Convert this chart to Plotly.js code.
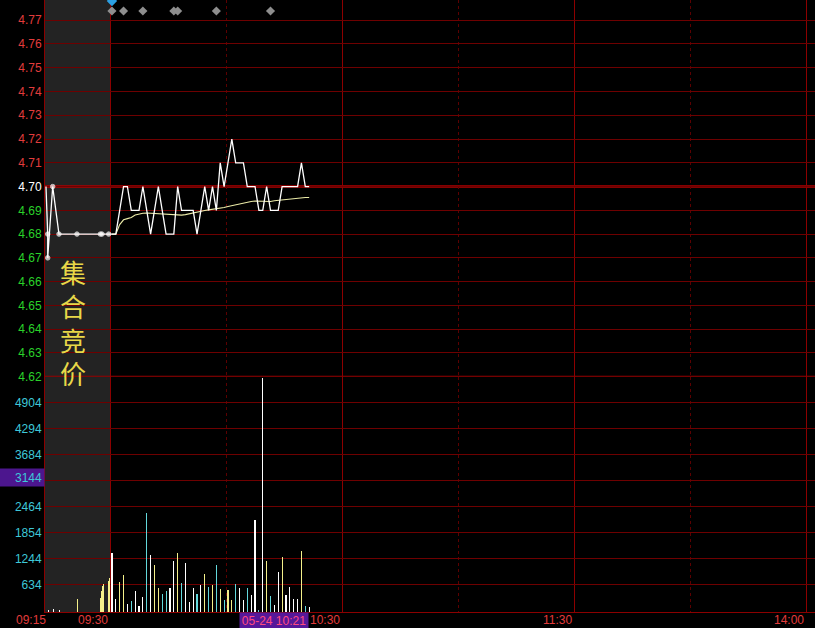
<!DOCTYPE html>
<html>
<head>
<meta charset="utf-8">
<script src="https://cdn.plot.ly/plotly-3.0.1.min.js"></script>
<style>
  html, body { margin: 0; padding: 0; background: #000; overflow: hidden; }
  #chart { width: 815px; height: 628px; }
</style>
</head>
<body>
<div id="chart"></div>
<script>
// ---------- data ----------
const prevClose = 4.70;

// call auction 09:15-09:25 (time stamps, matched price)
const auctionPriceTimes = ['09:15:09', '09:15:25', '09:15:25', '09:16:11', '09:17:09', '09:19:55', '09:23:31', '09:23:46', '09:24:48'];
const auctionPrices     = [4.70, 4.68, 4.67, 4.70, 4.68, 4.68, 4.68, 4.68, 4.68];

// call auction volume
const auctionVolTimes = ['09:15:30', '09:16:17', '09:17:12', '09:19:58', '09:23:31', '09:23:40', '09:23:49', '09:23:58', '09:24:44', '09:24:53'];
const auctionVols     = [54, 70, 54, 305, 335, 483, 600, 657, 718, 805];
const auctionVolKind  = ['w', 'w', 'w', 'y', 'y', 'y', 'y', 'y', 'y', 'y'];

// continuous trading, one entry per minute from 09:30 to 10:21
const tradePrice = [
  4.68, 4.68, 4.69, 4.70, 4.70, 4.69, 4.69, 4.69, 4.70, 4.69,
  4.68, 4.69, 4.70, 4.69, 4.68, 4.68, 4.68, 4.70, 4.69, 4.69,
  4.69, 4.69, 4.68, 4.69, 4.70, 4.69, 4.70, 4.69, 4.71, 4.70,
  4.71, 4.72, 4.71, 4.71, 4.71, 4.70, 4.70, 4.70, 4.69, 4.69,
  4.70, 4.69, 4.69, 4.69, 4.70, 4.70, 4.70, 4.70, 4.70, 4.71,
  4.70, 4.70
];
const avgPrice = [
  4.6800, 4.6800, 4.6840, 4.6860, 4.6865, 4.6870, 4.6880, 4.6885, 4.6888, 4.6889,
  4.6888, 4.6887, 4.6886, 4.6885, 4.6883, 4.6881, 4.6880, 4.6879, 4.6880, 4.6882,
  4.6886, 4.6889, 4.6893, 4.6896, 4.6899, 4.6902, 4.6904, 4.6906, 4.6909, 4.6912,
  4.6916, 4.6920, 4.6924, 4.6928, 4.6931, 4.6934, 4.6937, 4.6939, 4.6938, 4.6936,
  4.6935, 4.6937, 4.6940, 4.6942, 4.6944, 4.6946, 4.6948, 4.6950, 4.6952, 4.6953,
  4.6954, 4.6954
];
const tradeVol = [
  1391, 312, 695, 875, 195, 265, 500, 148, 359, 2323,
  1344, 1110, 570, 429, 500, 570, 1204, 1391, 687, 1157,
  242, 570, 429, 641, 899, 594, 641, 1110, 547, 289,
  523, 289, 664, 570, 289, 570, 406, 2166, 54, 5490,
  1204, 382, 171, 946, 1298, 406, 594, 312, 312, 1438,
  148, 124
];
const tradeVolKind = [
  'w', 'w', 'y', 'y', 'w', 'c', 'w', 'w', 'w', 'c',
  'w', 'y', 'y', 'c', 'c', 'w', 'w', 'y', 'c', 'w',
  'w', 'w', 'c', 'w', 'y', 'c', 'y', 'c', 'y', 'c',
  'y', 'y', 'c', 'w', 'w', 'c', 'w', 'w', 'c', 'w',
  'y', 'c', 'w', 'w', 'y', 'w', 'w', 'w', 'w', 'y',
  'c', 'w'
];

// minute indexes (from 09:30) carrying event flags
const eventMinutes = [3, 8, 16, 17, 27, 41];
const alertMinutes = [0];

// axis ticks
const priceTicks = [4.62, 4.63, 4.64, 4.65, 4.66, 4.67, 4.68, 4.69, 4.70, 4.71, 4.72, 4.73, 4.74, 4.75, 4.76, 4.77];
const volTicks = [634, 1244, 1854, 2464, 3074, 3684, 4294, 4904];
const volTickText = ['634', '1244', '1854', '2464', '', '3684', '4294', '4904'];
const timeTicks = ['09:15', '09:30', '10:30', '11:30', '14:00'];
const halfHourTicks = ['10:00', '11:00', '13:30'];
const cursorVolume = 3144;
const cursorLabel = '05-24 10:21';
const cursorMinute = 51;

// ---------- time scale ----------
// x unit = trading minute after 09:30; lunch break removed; auction squeezed to the left block
const AUCTION_LEFT = -16.81;
function tradingMinutes(hhmm) {
  const [h, m] = hhmm.split(':').map(Number);
  const t = h * 60 + m;
  if (t <= 11 * 60 + 30) return t - (9 * 60 + 30);
  return 120 + t - 13 * 60;
}
function timeToX(hhmm) {
  if (hhmm === '09:15') return AUCTION_LEFT;
  return tradingMinutes(hhmm);
}
function auctionX(hms) {
  const [h, m, s] = hms.split(':').map(Number);
  const secs = (h * 3600 + m * 60 + s) - (9 * 3600 + 15 * 60);
  return AUCTION_LEFT + secs / 600 * (-AUCTION_LEFT);
}
const minuteX = i => i + 0.5;

const kindColor = { w: '#ffffff', y: '#f4f08a', c: '#63d8dc' };
const RED = '#e23c3c', GREEN = '#2ad22a', CYAN = '#3ec8d8';
const GRID = '#6e0000', AXIS = '#8c0000';
const FONT = 'Liberation Sans, Arial, sans-serif';

// ---------- traces ----------
const tradeX = tradePrice.map((_, i) => minuteX(i));
const aPX = auctionPriceTimes.map(auctionX);

const priceTrace = {
  x: aPX.concat(tradeX),
  y: auctionPrices.concat(tradePrice),
  xaxis: 'x', yaxis: 'y',
  type: 'scatter', mode: 'lines+markers',
  line: { color: '#ffffff', width: 1.3 },
  marker: {
    color: '#ffffff',
    size: aPX.map((_, i) => (i === 0 ? 0 : 4.5)).concat(tradeX.map(() => 0))
  },
  hoverinfo: 'skip'
};

const avgTrace = {
  x: tradeX, y: avgPrice,
  xaxis: 'x', yaxis: 'y',
  type: 'scatter', mode: 'lines',
  line: { color: '#ececa8', width: 1.1 },
  hoverinfo: 'skip'
};

const volTrace = {
  x: auctionVolTimes.map(auctionX).concat(tradeVol.map((_, i) => minuteX(i))),
  y: auctionVols.concat(tradeVol),
  xaxis: 'x', yaxis: 'y2',
  type: 'bar',
  width: 0.3,
  marker: { color: auctionVolKind.concat(tradeVolKind).map(k => kindColor[k]), line: { width: 0 } },
  hoverinfo: 'skip'
};

const PRICE_TOP = 4.7785;
const yFlag = 4.7739, yAlert = 4.7781;
const eventTrace = {
  x: eventMinutes.concat(alertMinutes).map(minuteX),
  y: eventMinutes.map(() => yFlag).concat(alertMinutes.map(() => yFlag)),
  xaxis: 'x', yaxis: 'y',
  type: 'scatter', mode: 'markers',
  marker: { symbol: 'diamond', size: 7, color: '#8e8e8e' },
  hoverinfo: 'skip'
};
const alertTrace = {
  x: alertMinutes.map(minuteX),
  y: alertMinutes.map(() => yAlert),
  xaxis: 'x', yaxis: 'y',
  type: 'scatter', mode: 'markers',
  marker: { symbol: 'diamond', size: 8, color: '#2c9fe2' },
  hoverinfo: 'skip'
};

// ---------- layout ----------
const VOL_TOP = 5514;
const SPLIT = 0.3845;

const priceTickText = priceTicks.map(p => {
  const c = p > prevClose + 1e-9 ? RED : (p < prevClose - 1e-9 ? GREEN : '#ffffff');
  return '<span style="color:' + c + '">' + p.toFixed(2) + '</span>';
});

// time labels sit just left of their grid line
const timeLabels = timeTicks.map(t => ({
  xref: 'x', yref: 'paper', x: timeToX(t), y: 0,
  xanchor: 'right', yanchor: 'top', xshift: t === '09:15' ? 2 : -1, yshift: 0,
  text: t, showarrow: false, borderpad: 0,
  font: { family: FONT, size: 12, color: RED }
}));

const layout = {
  width: 815, height: 628,
  margin: { l: 45, r: 0, t: 0, b: 16 },
  paper_bgcolor: '#000000',
  plot_bgcolor: '#000000',
  showlegend: false,
  bargap: 0,
  font: { family: FONT, size: 12, color: RED },
  xaxis: {
    range: [AUCTION_LEFT, 182.3],
    tickvals: timeTicks.map(timeToX),
    ticktext: timeTicks,
    showticklabels: false,
    ticks: '',
    showgrid: true, gridcolor: AXIS, gridwidth: 1,
    minor: { tickvals: halfHourTicks.map(timeToX), showgrid: true, gridcolor: '#5c0000', griddash: 'dot', gridwidth: 1, ticks: '' },
    showline: true, linecolor: AXIS, linewidth: 1,
    zeroline: false, anchor: 'y2', fixedrange: true
  },
  yaxis: {
    domain: [SPLIT, 1],
    range: [4.62, PRICE_TOP],
    tickvals: priceTicks,
    ticktext: priceTickText,
    ticks: '',
    tickfont: { family: FONT, size: 12, color: RED },
    showgrid: true, gridcolor: GRID, gridwidth: 1,
    showline: true, linecolor: AXIS,
    zeroline: false, anchor: 'x', fixedrange: true
  },
  yaxis2: {
    domain: [0, SPLIT],
    range: [0, VOL_TOP],
    tickvals: volTicks,
    ticktext: volTickText,
    ticks: '',
    tickfont: { family: FONT, size: 12, color: CYAN },
    showgrid: true, gridcolor: GRID, gridwidth: 1,
    showline: true, linecolor: AXIS,
    zeroline: false, anchor: 'x', fixedrange: true
  },
  shapes: [
    // call auction block
    { type: 'rect', xref: 'x', yref: 'paper', x0: AUCTION_LEFT, x1: 0, y0: 0, y1: 1,
      fillcolor: '#232323', line: { width: 0 }, layer: 'below' },
    // previous close
    { type: 'line', xref: 'paper', yref: 'y', x0: 0, x1: 1, y0: prevClose, y1: prevClose,
      line: { color: '#b00000', width: 2.5 }, layer: 'between' },
    // price / volume separator
    { type: 'line', xref: 'paper', yref: 'y', x0: 0, x1: 1, y0: 4.62, y1: 4.62,
      line: { color: '#9a0000', width: 2 }, layer: 'between' }
  ],
  annotations: timeLabels.concat([
    { xref: 'x', yref: 'paper', x: -9.6, y: 0.474, xanchor: 'center', yanchor: 'middle',
      text: '集<br>合<br>竞<br>价', showarrow: false,
      font: { family: 'Noto Sans CJK SC, sans-serif', size: 26, color: '#e8d848' } },
    { xref: 'paper', yref: 'y2', x: 0, y: cursorVolume, xanchor: 'right', yanchor: 'middle',
      text: String(cursorVolume), showarrow: false, align: 'right',
      width: 41, height: 13, borderpad: 2, bgcolor: '#4c168e',
      font: { family: FONT, size: 12, color: CYAN } },
    { xref: 'x', yref: 'paper', x: minuteX(cursorMinute) - 9, y: 0, xanchor: 'center', yanchor: 'top',
      text: cursorLabel, showarrow: false, yshift: 0,
      width: 66, height: 14, borderpad: 1, bgcolor: '#56189a',
      font: { family: FONT, size: 12, color: '#ff4a7e' } },
    { xref: 'paper', yref: 'paper', x: 0, y: 1 + 3.6 / 612, xanchor: 'right', yanchor: 'middle', xshift: -1,
      text: '4.78', showarrow: false, font: { family: FONT, size: 12, color: RED } }
  ])
};

Plotly.newPlot('chart', [volTrace, avgTrace, priceTrace, eventTrace, alertTrace], layout,
  { displayModeBar: false, staticPlot: true });
</script>
</body>
</html>
